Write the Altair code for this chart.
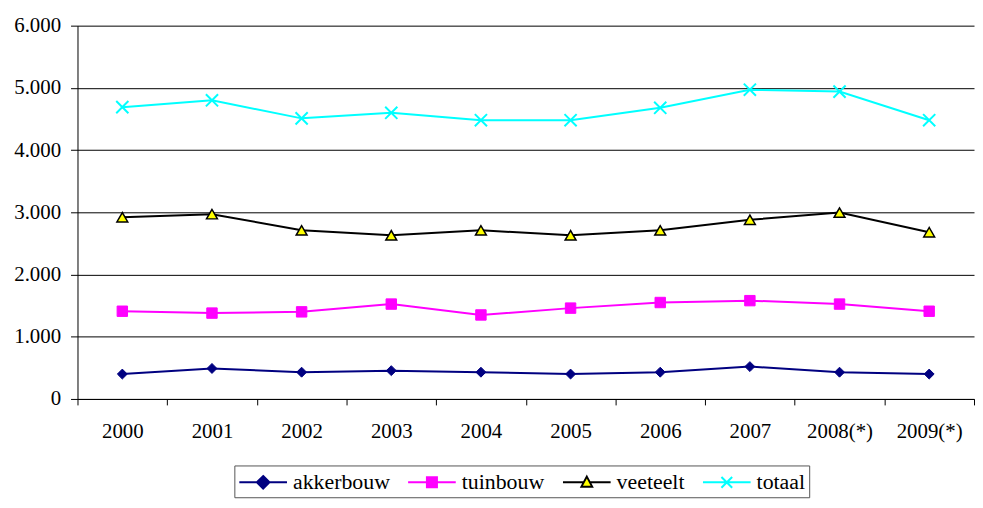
import altair as alt
import pandas as pd

years = ["2000", "2001", "2002", "2003", "2004", "2005", "2006", "2007", "2008(*)", "2009(*)"]
series = ["akkerbouw", "tuinbouw", "veeteelt", "totaal"]

akkerbouw = [400, 490, 430, 455, 430, 400, 430, 520, 430, 400]
tuinbouw = [1410, 1380, 1400, 1525, 1350, 1460, 1550, 1580, 1525, 1410]
veeteelt = [2920, 2970, 2710, 2630, 2710, 2630, 2710, 2880, 2995, 2680]
totaal = [4690, 4800, 4510, 4600, 4480, 4480, 4680, 4970, 4940, 4480]

y_ticks = [0, 1000, 2000, 3000, 4000, 5000, 6000]

line_colors = ["#000080", "#FF00FF", "#000000", "#00FFFF"]
marker_fills = ["#000080", "#FF00FF", "#FFFF00", "none"]
marker_strokes = ["#000080", "#FF00FF", "#000000", "#00FFFF"]
X_PATH = "M-1,-1L1,1M-1,1L1,-1"
marker_shapes = ["diamond", "square", "triangle-up", X_PATH]
marker_sizes = [100, 110, 120, 150]
marker_stroke_widths = [1, 1, 1.5, 2]
legend_fills = ["#000080", "#FF00FF", "#FFFF00", "#00FFFF"]
legend_shapes = [
    "M-1,0H3M1,-0.53L1.53,0L1,0.53L0.47,0Z",
    "M-1,0H3M0.58,-0.42H1.42V0.42H0.58Z",
    "M-1,0H0.75M1.25,0H3M1,-0.48L1.45,0.36L0.55,0.36Z",
    "M-1,0H3M0.55,-0.45L1.45,0.45M0.55,0.45L1.45,-0.45",
]

values = {"akkerbouw": akkerbouw, "tuinbouw": tuinbouw, "veeteelt": veeteelt, "totaal": totaal}
rows = []
for s in series:
    for yr, v in zip(years, values[s]):
        rows.append({"year": yr, "serie": s, "value": v})
df = pd.DataFrame(rows)

FONT = "'Times New Roman', 'Liberation Serif', 'DejaVu Serif', serif"

x_enc = alt.X(
    "year:N",
    sort=years,
    scale=alt.Scale(type="band", paddingInner=0, paddingOuter=0),
    axis=alt.Axis(
        title=None, labelAngle=0, tickBand="extent", tickSize=6, labelPadding=16,
        grid=False, domainColor="#000", tickColor="#000",
        labelFont=FONT, labelFontSize=21, labelColor="#000",
    ),
)
y_enc = alt.Y(
    "value:Q",
    scale=alt.Scale(domain=[0, 6000], nice=False),
    axis=alt.Axis(
        title=None, values=y_ticks, grid=True, gridColor="#000", gridWidth=1,
        tickSize=7, labelPadding=10, minExtent=70, domainColor="#000", tickColor="#000",
        labelFont=FONT, labelFontSize=21, labelColor="#000",
        labelExpr="replace(format(datum.value, ','), ',', '.')",
    ),
)

base = alt.Chart(df)
layers = []
for i, s in enumerate(series):
    sub = base.transform_filter(alt.datum.serie == s)
    layers.append(
        sub.mark_line(color=line_colors[i], strokeWidth=2).encode(x=x_enc, y=y_enc)
    )
for i, s in enumerate(series):
    sub = base.transform_filter(alt.datum.serie == s)
    layers.append(
        sub.mark_point(
            shape=marker_shapes[i], size=marker_sizes[i], fill=marker_fills[i],
            stroke=marker_strokes[i], strokeWidth=marker_stroke_widths[i], opacity=1,
            filled=(marker_fills[i] != "none"),
        ).encode(x=x_enc, y=y_enc)
    )

leg = alt.Legend(
    title=None, orient="none", legendX=158, legendY=443, direction="horizontal",
    symbolSize=576, symbolStrokeWidth=2, labelFont=FONT, labelFontSize=22,
    labelColor="#000", strokeColor="#555", padding=4, columnPadding=14,
    labelOffset=29,
)
legend_layer = base.transform_filter("false").mark_point(filled=True, strokeWidth=2, opacity=1).encode(
    shape=alt.Shape("serie:N", scale=alt.Scale(domain=series, range=legend_shapes), legend=leg),
    fill=alt.Fill("serie:N", scale=alt.Scale(domain=series, range=legend_fills), legend=leg),
    stroke=alt.Stroke("serie:N", scale=alt.Scale(domain=series, range=line_colors), legend=leg),
)
layers.append(legend_layer)

chart = alt.layer(*layers).properties(
    width=903, height=376,
    padding={"left": 0, "top": 5, "right": 0, "bottom": 0},
    background="white",
).configure_view(stroke=None).configure_axis(
    labelFont=FONT, labelFontSize=21, labelColor="#000",
).configure_legend(
    labelFont=FONT, labelFontSize=22, labelColor="#000",
)

chart.save("out.html", embed_options={"renderer": "svg", "actions": False})
